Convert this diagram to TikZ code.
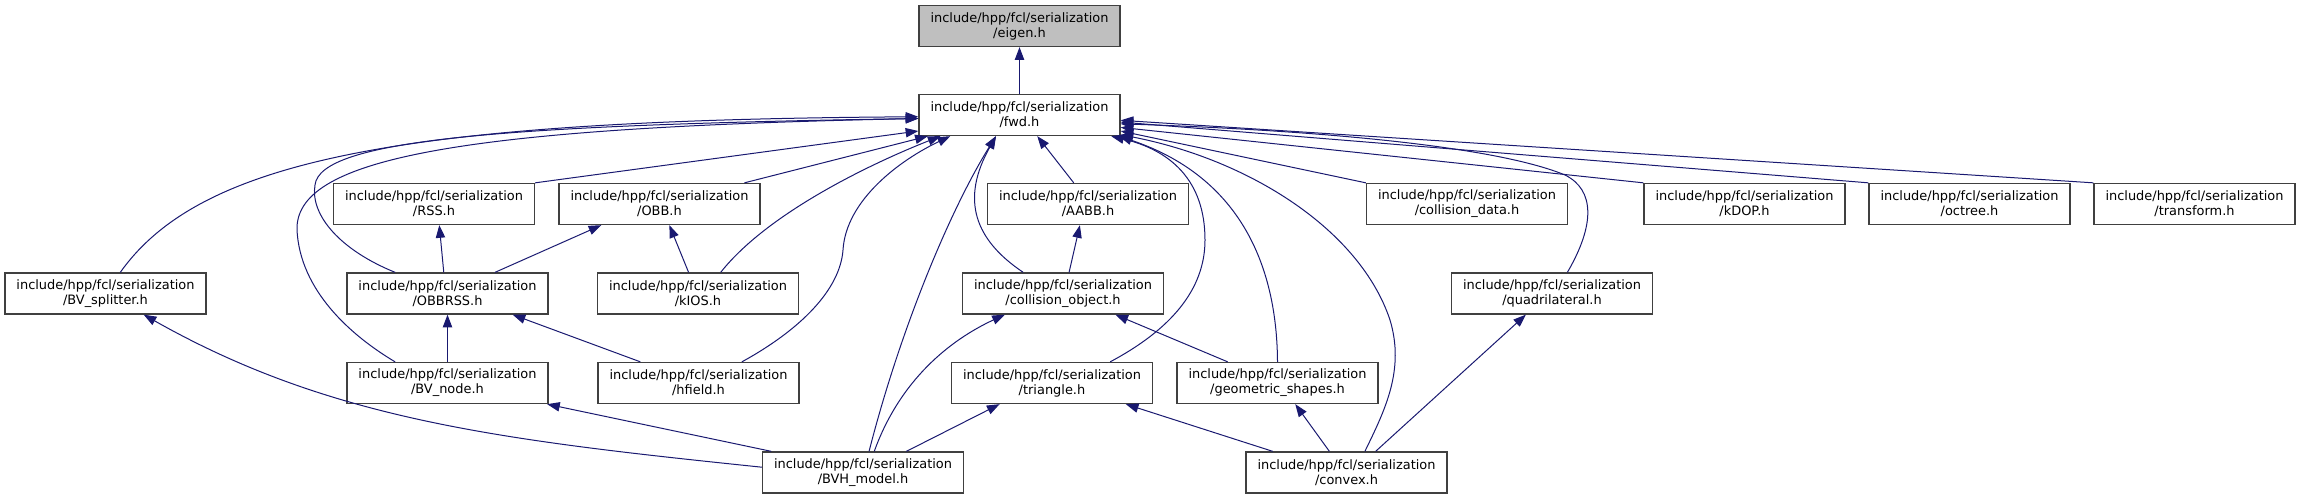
\documentclass[tikz,border=0pt]{standalone}
\usepackage{fontspec}
\setmainfont{DejaVu Sans}
\usetikzlibrary{arrows.meta}
\definecolor{incblue}{HTML}{191970}
\definecolor{boxline}{HTML}{404040}

\begin{document}
\begin{tikzpicture}[x=0.75pt, y=-0.75pt,
  hdr/.style={draw=boxline, line width=1pt, fill=white, minimum width=150.75pt,
    minimum height=30.75pt, inner sep=0pt, align=center,
    font=\fontsize{9.7}{11.25}\selectfont},
  inc/.style={draw=incblue, line width=0.75pt, -{Triangle[length=9.5pt,width=7pt]}}]
\useasboundingbox (0,0) rectangle (2301,499);
% header files, one row after another
\node[hdr, fill=black!25] (eigen) at (1019.5,26) {include/hpp/fcl/serialization\\/eigen.h};
\node[hdr] (fwd) at (1019.5,115) {include/hpp/fcl/serialization\\/fwd.h};
\node[hdr] (rss) at (434,204) {include/hpp/fcl/serialization\\/RSS.h};
\node[hdr] (obb) at (659.5,204) {include/hpp/fcl/serialization\\/OBB.h};
\node[hdr] (aabb) at (1088,204) {include/hpp/fcl/serialization\\/AABB.h};
\node[hdr] (colldata) at (1467,204) {include/hpp/fcl/serialization\\/collision\_data.h};
\node[hdr] (kdop) at (1744.5,204) {include/hpp/fcl/serialization\\/kDOP.h};
\node[hdr] (octree) at (1969.5,204) {include/hpp/fcl/serialization\\/octree.h};
\node[hdr] (transform) at (2194.5,204) {include/hpp/fcl/serialization\\/transform.h};
\node[hdr] (bvsplit) at (105.5,293.5) {include/hpp/fcl/serialization\\/BV\_splitter.h};
\node[hdr] (obbrss) at (447.5,293.5) {include/hpp/fcl/serialization\\/OBBRSS.h};
\node[hdr] (kios) at (698,293.5) {include/hpp/fcl/serialization\\/kIOS.h};
\node[hdr] (collobj) at (1063,293.5) {include/hpp/fcl/serialization\\/collision\_object.h};
\node[hdr] (quad) at (1552,293.5) {include/hpp/fcl/serialization\\/quadrilateral.h};
\node[hdr] (bvnode) at (447.5,383) {include/hpp/fcl/serialization\\/BV\_node.h};
\node[hdr] (hfield) at (698.5,383) {include/hpp/fcl/serialization\\/hfield.h};
\node[hdr] (tri) at (1052,383) {include/hpp/fcl/serialization\\/triangle.h};
\node[hdr] (geom) at (1277.5,383) {include/hpp/fcl/serialization\\/geometric\_shapes.h};
\node[hdr] (bvh) at (863,472.5) {include/hpp/fcl/serialization\\/BVH\_model.h};
\node[hdr] (convex) at (1346.5,472.5) {include/hpp/fcl/serialization\\/convex.h};
% includes of fwd.h
\draw[inc] (fwd) -- (eigen);
\draw[inc] (rss.north east) -- (fwd.189.6);
\draw[inc] (obb.14.6) -- (fwd.193);
\draw[inc] (aabb.124) -- (fwd.310);
\foreach \n/\a in {colldata/351.5, kdop/353.7, octree/356, transform/357}
  \draw[inc] (\n.north west) -- (fwd.\a);
\draw[inc] (bvsplit.55) .. controls (200,160) and (400,120) .. (fwd.181);
\draw[inc] (obbrss.158) .. controls (340,250) and (310,215) .. (315,185)
  .. controls (320,140) and (500,125) .. (fwd.182);
\draw[inc] (bvnode.158) .. controls (350,335) and (300,290) .. (297,230)
  .. controls (295,160) and (450,128) .. (fwd.182.5);
\draw[inc] (kios.43) .. controls (770,210) and (880,160) .. (fwd.195);
\draw[inc] (hfield.26) .. controls (800,330) and (840,290) .. (843,250)
  .. controls (846,200) and (900,160) .. (fwd.197);
\draw[inc] (bvh.74) .. controls (900,330) and (950,210) .. (fwd.222);
\draw[inc] (collobj.152) .. controls (975,240) and (960,200) .. (fwd.222);
\draw[inc] (tri.20) .. controls (1170,330) and (1205,290) .. (1205,240)
  .. controls (1205,180) and (1170,150) .. (fwd.347);
\draw[inc] (geom.north) .. controls (1277,280) and (1250,180) .. (fwd.348);
\draw[inc] (convex.49.5) .. controls (1385,410) and (1405,370) .. (1390,320)
  .. controls (1360,230) and (1250,160) .. (fwd.349);
\draw[inc] (quad.54) .. controls (1595,225) and (1595,190) .. (1565,175)
  .. controls (1480,140) and (1250,128) .. (fwd.355);
% includes between the bounding volume headers
\draw[inc] (obbrss.100) -- (rss.284);
\draw[inc] (obbrss.24) -- (obb.200.6);
\draw[inc] (kios.114) -- (obb.295);
\draw[inc] (bvnode) -- (obbrss);
\draw[inc] (hfield.160) -- (obbrss.342);
\draw[inc] (bvh.177) .. controls (500,440) and (330,420) .. (bvsplit.331);
\draw[inc] (bvh.167.6) -- (bvnode.348);
% includes of the collision headers
\draw[inc] (collobj.74) -- (aabb.249);
\draw[inc] (bvh.62) .. controls (900,380) and (950,340) .. (collobj.200);
\draw[inc] (geom.157) -- (collobj.338.5);
\draw[inc] (bvh.26.6) -- (tri.202);
\draw[inc] (convex.164) -- (tri.344);
\draw[inc] (convex.129) -- (geom.310.5);
\draw[inc] (convex.36) -- (quad.219);
\end{tikzpicture}
\end{document}
